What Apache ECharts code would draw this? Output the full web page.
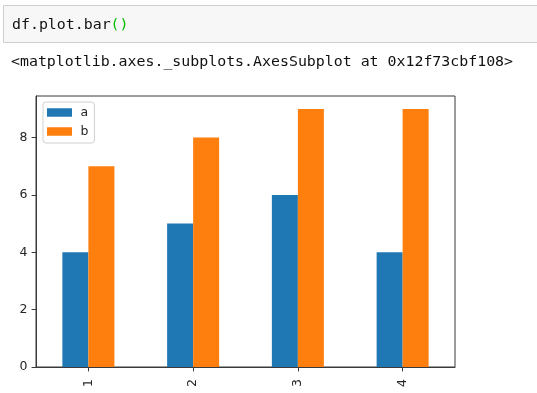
<!DOCTYPE html>
<html>
<head>
<meta charset="utf-8">
<script src="https://cdn.jsdelivr.net/npm/echarts@6/dist/echarts.min.js"></script>
<style>
html,body{margin:0;padding:0;background:#fff;}
#chart{width:537px;height:393px;}
</style>
</head>
<body>
<div id="chart"></div>
<script>
// ---- data ----
var categories = ['1', '2', '3', '4'];
var seriesNames = ['a', 'b'];
var valuesA = [4, 5, 6, 4];
var valuesB = [7, 8, 9, 9];
var yTicks = [0, 2, 4, 6, 8];
var yMax = 9.45;
var codeText = 'df.plot.bar';
var codeParens = '()';
var outputText = '<matplotlib.axes._subplots.AxesSubplot at 0x12f73cbf108>';

var chart = echarts.init(document.getElementById('chart'), null, {renderer: 'canvas'});
var mono = '"DejaVu Sans Mono", "Liberation Mono", monospace';
var sans = '"DejaVu Sans", sans-serif';
var axisColor = '#3a3a3a';
var labelColor = '#262626';

chart.setOption({
  backgroundColor: '#ffffff',
  animation: false,
  color: ['#1f77b4', '#ff7f0e'],
  graphic: [
    {
      type: 'rect', left: 3, top: 5, z: 0,
      shape: {width: 540, height: 37},
      style: {fill: '#f7f7f7', stroke: '#cfcfcf', lineWidth: 1}
    },
    {
      type: 'text', left: 12, top: 17.5, z: 1,
      style: {
        text: '{c|' + codeText + '}{p|' + codeParens + '}',
        rich: {
          c: {fontFamily: mono, fontSize: 14.9, fill: '#111'},
          p: {fontFamily: mono, fontSize: 14.9, fill: '#00bb00'}
        }
      }
    },
    {
      type: 'text', left: 11, top: 54.5, z: 1,
      style: {text: outputText, fontFamily: mono, fontSize: 14.9, fill: '#111'}
    }
  ],
  grid: {
    left: 36, right: 82, top: 96, bottom: 26,
    show: true, borderColor: axisColor, borderWidth: 1, backgroundColor: '#fff',
    outerBoundsMode: 'none'
  },
  legend: {
    data: seriesNames,
    orient: 'vertical',
    left: 43, top: 102,
    icon: 'rect',
    itemWidth: 25, itemHeight: 8.5,
    itemGap: 6,
    padding: [4, 6, 5, 4],
    backgroundColor: '#fff',
    borderColor: '#d0d0d0', borderWidth: 1, borderRadius: 3,
    textStyle: {fontFamily: sans, fontSize: 12.5, color: labelColor, padding: [0, 0, 0, 3.5]}
  },
  xAxis: {
    type: 'category',
    data: categories,
    boundaryGap: true,
    axisLine: {show: true, lineStyle: {color: axisColor, width: 1}},
    axisTick: {show: true, alignWithLabel: true, length: 4.4, lineStyle: {color: axisColor}},
    axisLabel: {rotate: 90, margin: 12, fontFamily: sans, fontSize: 12.5, color: labelColor},
    splitLine: {show: false}
  },
  yAxis: {
    type: 'value',
    min: 0, max: yMax, interval: 2,
    axisLine: {show: true, lineStyle: {color: axisColor, width: 1}},
    axisTick: {show: true, length: 4.4, lineStyle: {color: axisColor}, customValues: yTicks},
    axisLabel: {margin: 8.5, fontFamily: sans, fontSize: 12.5, color: labelColor, customValues: yTicks},
    splitLine: {show: false}
  },
  series: [
    {name: seriesNames[0], type: 'bar', data: valuesA, barWidth: 26, barGap: '0%'},
    {name: seriesNames[1], type: 'bar', data: valuesB, barWidth: 26, barGap: '0%'}
  ]
});
</script>
</body>
</html>
